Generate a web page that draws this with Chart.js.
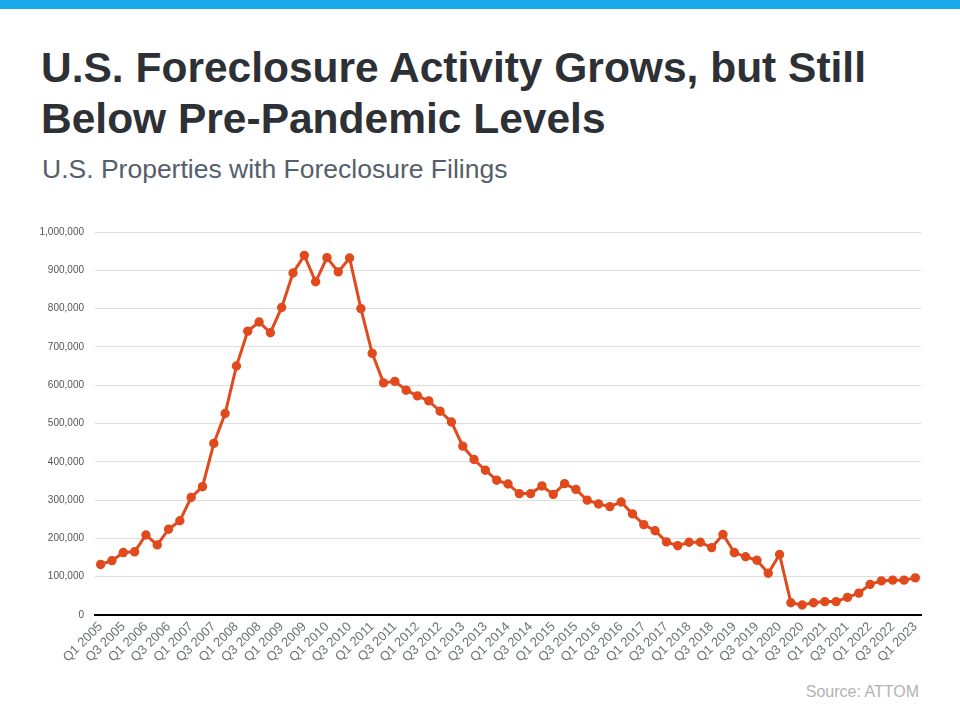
<!DOCTYPE html>
<html>
<head>
<meta charset="utf-8">
<script src="https://cdn.jsdelivr.net/npm/chart.js@4/dist/chart.umd.min.js"></script>
<style>
  html, body { margin: 0; padding: 0; background: #fff; }
  body { width: 960px; height: 720px; position: relative; overflow: hidden;
         font-family: "Liberation Sans", Arial, sans-serif; }
  .topbar { position: absolute; left: 0; top: 0; width: 960px; height: 9px; background: #1ba9e9; }
  h1 { position: absolute; left: 41px; top: 42px; margin: 0; font-size: 42.5px; line-height: 51px;
       font-weight: bold; color: #2d3035; }
  h2 { position: absolute; left: 42px; top: 153px; margin: 0; font-size: 26.5px; line-height: 32px;
       font-weight: normal; color: #55606a; }
  .source { position: absolute; right: 41px; top: 683px; font-size: 16px; color: #b3b3b3; }
  #wrap { position: absolute; left: 0; top: 200px; width: 960px; height: 475px; }
</style>
</head>
<body>
<div class="topbar"></div>
<h1>U.S. Foreclosure Activity Grows, but Still<br>Below Pre-Pandemic Levels</h1>
<h2>U.S. Properties with Foreclosure Filings</h2>
<div id="wrap"><canvas id="chart"></canvas></div>
<div class="source">Source: ATTOM</div>

<script>
/* =======================
   DATA
======================= */
const years = [2005, 2006, 2007, 2008, 2009, 2010, 2011, 2012, 2013, 2014,
               2015, 2016, 2017, 2018, 2019, 2020, 2021, 2022, 2023];
const quarters = ["Q1", "Q2", "Q3", "Q4"];

// properties with foreclosure filings, one value per quarter (Q1 2005 .. Q1 2023)
const filings = [
  132000, 142000, 163000, 165000,
  209000, 183000, 224000, 246000,
  307000, 335000, 448000, 526000,
  650000, 741000, 765000, 737000,
  803000, 893000, 939000, 870000,
  933000, 896000, 932000, 800000,
  683000, 606000, 610000, 587000,
  572000, 559000, 532000, 504000,
  441000, 406000, 378000, 352000,
  342000, 317000, 317000, 337000,
  315000, 343000, 328000, 300000,
  290000, 283000, 295000, 264000,
  236000, 220000, 191000, 181000,
  190000, 190000, 176000, 210000,
  163000, 152000, 143000, 109000,
  158000, 32000, 26000, 32000,
  35000, 35000, 46000, 57000,
  80000, 89000, 91000, 91000,
  97000
];

const labels = [];
years.forEach(y => quarters.forEach(q => labels.push(q + " " + y)));
labels.length = filings.length;

/* =======================
   CHART
======================= */
new Chart(document.getElementById("chart"), {
  type: "line",
  data: {
    labels: labels,
    datasets: [{
      data: filings,
      borderColor: "#e04a1c",
      backgroundColor: "#e04a1c",
      borderWidth: 3,
      pointRadius: 3.2,
      pointHoverRadius: 3.2,
      tension: 0,
      fill: false
    }]
  },
  options: {
    responsive: true,
    maintainAspectRatio: false,
    animation: false,
    layout: { padding: { left: 0, right: 39, top: 32, bottom: 0 } },
    plugins: { legend: { display: false }, tooltip: { enabled: false } },
    scales: {
      x: {
        offset: true,
        grid: { display: false, drawTicks: false },
        border: { display: true, color: "#000", width: 2 },
        ticks: {
          autoSkip: false,
          maxRotation: 45,
          minRotation: 45,
          padding: 4,
          color: "#6f7378",
          font: { family: "Liberation Sans, Arial, sans-serif", size: 13 },
          callback: function (val, i) { return i % 2 === 0 ? this.getLabelForValue(val) : ""; }
        },
        afterFit: s => { s.height = 60; }
      },
      y: {
        min: 0,
        max: 1000000,
        grid: { color: "#dedede", lineWidth: 1, drawTicks: false },
        border: { display: false },
        ticks: {
          stepSize: 100000,
          padding: 11,
          color: "#555",
          font: { family: "Liberation Sans, Arial, sans-serif", size: 10 },
          callback: v => v.toLocaleString("en-US")
        },
        afterFit: s => { s.width = 95; }
      }
    }
  }
});
</script>
</body>
</html>
